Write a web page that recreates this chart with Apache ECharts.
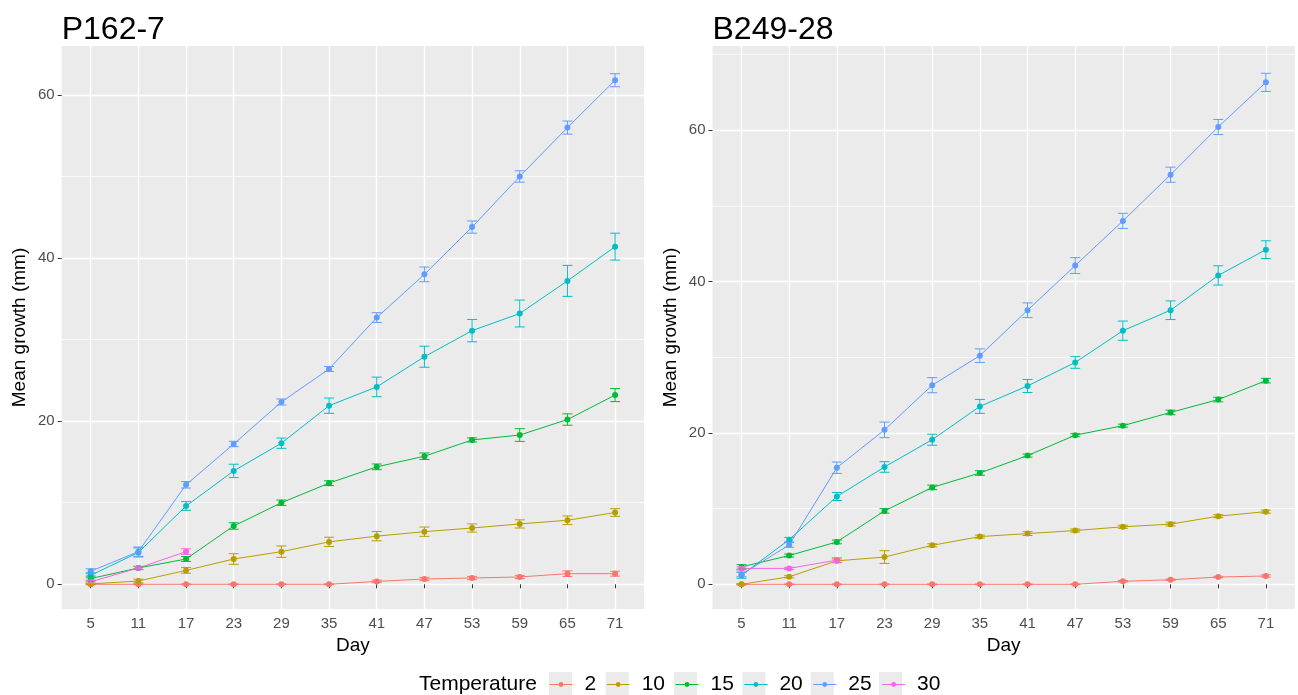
<!DOCTYPE html>
<html><head><meta charset="utf-8">
<script src="https://cdn.jsdelivr.net/npm/echarts@6/dist/echarts.min.js"></script>
<style>html,body{margin:0;padding:0;background:#fff}#c{width:1298px;height:695px}</style>
</head><body><div id="c"></div><script>
// ---------- data ----------
const days = [5, 11, 17, 23, 29, 35, 41, 47, 53, 59, 65, 71];
const temperatures = ['2', '10', '15', '20', '25', '30'];
const panelTitles = ['P162-7', 'B249-28'];
const yTicks = [0, 20, 40, 60];
const yMinorLeft = [10, 30, 50];
const yMinorRight = [10, 30, 50, 70];

// P162-7 : mean growth and error (half-width)
const p162_t2 = [0, 0, 0, 0, 0, 0, 0.35, 0.65, 0.77, 0.9, 1.3, 1.3];
const p162_t2_err = [0.05, 0.05, 0.05, 0.05, 0.05, 0.05, 0.15, 0.2, 0.2, 0.2, 0.35, 0.3];
const p162_t10 = [0.05, 0.4, 1.7, 3.1, 4.0, 5.2, 5.9, 6.45, 6.9, 7.4, 7.85, 8.8];
const p162_t10_err = [0.1, 0.22, 0.35, 0.65, 0.7, 0.57, 0.57, 0.57, 0.5, 0.5, 0.53, 0.47];
const p162_t15 = [0.7, 2.0, 3.1, 7.15, 10.0, 12.4, 14.4, 15.7, 17.7, 18.3, 20.2, 23.2];
const p162_t15_err = [0.3, 0.2, 0.3, 0.4, 0.33, 0.3, 0.35, 0.4, 0.25, 0.78, 0.7, 0.8];
const p162_t20 = [1.1, 3.9, 9.6, 13.9, 17.3, 21.9, 24.2, 27.9, 31.1, 33.2, 37.2, 41.4];
const p162_t20_err = [0.3, 0.55, 0.53, 0.82, 0.63, 0.94, 1.2, 1.29, 1.37, 1.65, 1.9, 1.65];
const p162_t25 = [1.6, 4.0, 12.2, 17.2, 22.35, 26.4, 32.7, 38.0, 43.8, 50.0, 56.0, 61.8];
const p162_t25_err = [0.3, 0.57, 0.4, 0.33, 0.37, 0.3, 0.6, 0.9, 0.75, 0.7, 0.8, 0.8];
const p162_t30 = [0.3, 2.0, 4.0];
const p162_t30_err = [0.2, 0.15, 0.35];

// B249-28 : mean growth and error (half-width)
const b249_t2 = [0, 0, 0, 0, 0, 0, 0, 0, 0.4, 0.6, 0.96, 1.1];
const b249_t2_err = [0.05, 0.05, 0.05, 0.05, 0.05, 0.05, 0.05, 0.05, 0.1, 0.1, 0.1, 0.15];
const b249_t10 = [0, 1.0, 3.1, 3.6, 5.15, 6.3, 6.7, 7.1, 7.6, 7.95, 9.0, 9.6];
const b249_t10_err = [0.1, 0.15, 0.25, 0.84, 0.2, 0.2, 0.25, 0.2, 0.2, 0.25, 0.2, 0.2];
const b249_t15 = [2.3, 3.8, 5.6, 9.7, 12.8, 14.7, 17.0, 19.7, 20.95, 22.7, 24.4, 26.9];
const b249_t15_err = [0.3, 0.2, 0.25, 0.3, 0.3, 0.3, 0.2, 0.2, 0.2, 0.3, 0.3, 0.3];
const b249_t20 = [1.2, 5.9, 11.6, 15.5, 19.1, 23.5, 26.2, 29.3, 33.5, 36.2, 40.8, 44.2];
const b249_t20_err = [0.4, 0.3, 0.53, 0.7, 0.73, 0.92, 0.86, 0.77, 1.27, 1.23, 1.27, 1.17];
const b249_t25 = [1.3, 5.2, 15.4, 20.4, 26.3, 30.2, 36.2, 42.1, 48.0, 54.1, 60.4, 66.3];
const b249_t25_err = [0.3, 0.3, 0.75, 1.03, 1.0, 0.9, 0.97, 1.05, 1.0, 1.0, 1.0, 1.2];
const b249_t30 = [2.1, 2.1, 3.2];
const b249_t30_err = [0.2, 0.15, 0.3];

// ---------- styling ----------
const palette = ['#F8766D', '#B79F00', '#00BA38', '#00BFC4', '#619CFF', '#F564E3'];
const FONT = '"Liberation Sans", Arial, sans-serif';

const panels = [
  { means: [p162_t2, p162_t10, p162_t15, p162_t20, p162_t25, p162_t30],
    errs: [p162_t2_err, p162_t10_err, p162_t15_err, p162_t20_err, p162_t25_err, p162_t30_err],
    yMin: -3.03, yMax: 66.0, minor: yMinorLeft, left: 61.7 },
  { means: [b249_t2, b249_t10, b249_t15, b249_t20, b249_t25, b249_t30],
    errs: [b249_t2_err, b249_t10_err, b249_t15_err, b249_t20_err, b249_t25_err, b249_t30_err],
    yMin: -3.26, yMax: 71.1, minor: yMinorRight, left: 712.5 }
];

const grids = [], xAxes = [], yAxes = [], titles = [], lineSeries = [], errSeries = [];

panels.forEach((p, pi) => {
  grids.push({ left: p.left, top: 46, width: 582.4, height: 563, show: true,
    backgroundColor: '#EBEBEB', borderWidth: 0, containLabel: false });
  titles.push({ text: panelTitles[pi], left: p.left, top: 14.5, padding: 0,
    textStyle: { fontSize: 32, fontWeight: 'normal', color: '#000', fontFamily: FONT } });
  xAxes.push({
    type: 'value', gridIndex: pi, min: 1.35, max: 74.65,
    axisLine: { show: false },
    axisTick: { show: true, customValues: days, length: 4, lineStyle: { color: '#333333', width: 1 } },
    axisLabel: { customValues: days, color: '#4D4D4D', fontSize: 15, fontFamily: FONT, margin: 7 },
    splitLine: { show: true, lineStyle: { color: '#FFFFFF', width: 1.4 } },
    name: 'Day', nameLocation: 'middle', nameGap: 21,
    nameTextStyle: { color: '#000', fontSize: 19, fontFamily: FONT }
  });
  yAxes.push({
    type: 'value', gridIndex: pi, min: p.yMin, max: p.yMax, position: 'left',
    axisLine: { show: false },
    axisTick: { show: true, customValues: yTicks, length: 4, lineStyle: { color: '#333333', width: 1 } },
    axisLabel: { customValues: yTicks, color: '#4D4D4D', fontSize: 15, fontFamily: FONT, margin: 7 },
    splitLine: { show: true, lineStyle: { color: '#FFFFFF', width: 1.4 } },
    name: 'Mean growth (mm)', nameLocation: 'middle', nameGap: 32, nameRotate: 90,
    nameTextStyle: { color: '#000', fontSize: 19, fontFamily: FONT }
  });
  yAxes.push({
    type: 'value', gridIndex: pi, min: p.yMin, max: p.yMax, position: 'left',
    axisLine: { show: false },
    axisTick: { show: false, customValues: p.minor },
    axisLabel: { show: false, customValues: p.minor },
    splitLine: { show: true, lineStyle: { color: '#FFFFFF', width: 0.7 } }
  });

  temperatures.forEach((t, ti) => {
    const m = p.means[ti], e = p.errs[ti];
    lineSeries.push({
      type: 'line', name: t, xAxisIndex: pi, yAxisIndex: pi * 2,
      data: m.map((v, j) => [days[j], v]),
      symbol: 'circle', symbolSize: 6, showSymbol: true,
      lineStyle: { width: 1, color: palette[ti] },
      itemStyle: { color: palette[ti] },
      z: 3, silent: true
    });
    errSeries.push({
      type: 'custom', name: t, xAxisIndex: pi, yAxisIndex: pi * 2,
      data: m.map((v, j) => [days[j], v, e[j]]),
      z: 4, silent: true,
      renderItem: (params, api) => {
        const x = api.value(0), y = api.value(1), er = api.value(2);
        const top = api.coord([x, y + er]);
        const bot = api.coord([x, y - er]);
        const hw = 5;
        const style = { stroke: palette[ti], lineWidth: 1, fill: null };
        return { type: 'group', children: [
          { type: 'line', shape: { x1: top[0], y1: top[1], x2: bot[0], y2: bot[1] }, style },
          { type: 'line', shape: { x1: top[0] - hw, y1: top[1], x2: top[0] + hw, y2: top[1] }, style },
          { type: 'line', shape: { x1: bot[0] - hw, y1: bot[1], x2: bot[0] + hw, y2: bot[1] }, style }
        ]};
      }
    });
  });
});

titles.push({ text: 'Temperature', left: 419, top: 674, padding: 0,
  textStyle: { fontSize: 21, fontWeight: 'normal', color: '#000', fontFamily: FONT } });

const legendBase = {
  orient: 'horizontal', left: 549, itemWidth: 23, itemGap: 10,
  data: temperatures, selectedMode: false, padding: 0
};

const option = {
  animation: false,
  backgroundColor: '#FFFFFF',
  title: titles,
  grid: grids,
  xAxis: xAxes,
  yAxis: yAxes,
  legend: [
    Object.assign({}, legendBase, {
      top: 672, itemHeight: 23, icon: 'rect',
      itemStyle: { color: '#EBEBEB', borderWidth: 0 },
      textStyle: { fontSize: 21, fontFamily: FONT, color: 'rgba(0,0,0,0)', padding: [0, 0, 0, 7] },
      z: 1
    }),
    Object.assign({}, legendBase, {
      top: 674, itemHeight: 6,
      lineStyle: { width: 1 },
      textStyle: { fontSize: 21, fontFamily: FONT, color: '#000', padding: [0, 0, 0, 7] },
      z: 2
    })
  ],
  series: lineSeries.concat(errSeries)
};

const chart = echarts.init(document.getElementById('c'), null, { renderer: 'canvas' });
chart.setOption(option);
</script></body></html>
